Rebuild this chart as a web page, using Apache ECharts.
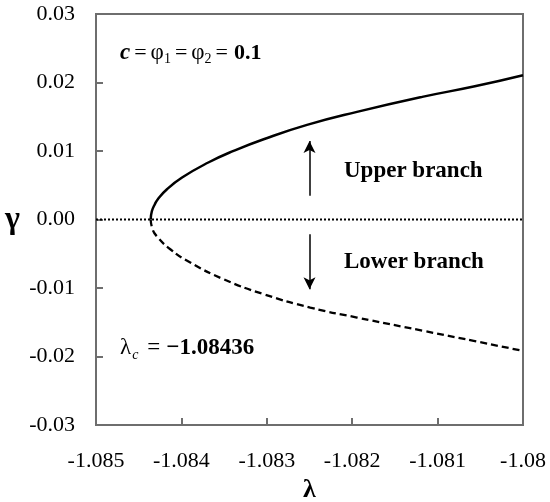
<!DOCTYPE html>
<html>
<head>
<meta charset="utf-8">
<script src="https://cdn.jsdelivr.net/npm/echarts@6/dist/echarts.min.js"></script>
<style>
html,body{margin:0;padding:0;background:#fff;}
#chart{width:550px;height:502px;}
</style>
</head>
<body>
<div id="chart"></div>
<script>
// ---- data ----
const xTickLabels = ['-1.085', '-1.084', '-1.083', '-1.082', '-1.081', '-1.08'];
const yTickLabels = ['-0.03', '-0.02', '-0.01', '0.00', '0.01', '0.02', '0.03'];

const upperLambda = [-1.08436, -1.084346, -1.084311, -1.084276, -1.084169, -1.083992, -1.083685, -1.083389, -1.083037, -1.082529, -1.081944, -1.081180, -1.080578, -1.08];
const upperGamma  = [0.0, 0.0012, 0.00223, 0.00296, 0.00442, 0.00613, 0.00832, 0.01002, 0.01172, 0.01381, 0.01571, 0.0179, 0.01941, 0.02107];

const lowerLambda = [-1.08436, -1.084338, -1.084292, -1.08413, -1.083896, -1.083506, -1.083037, -1.082491, -1.081944, -1.081164, -1.080578, -1.08];
const lowerGamma  = [0.0, -0.00142, -0.00239, -0.00434, -0.00628, -0.00872, -0.0109, -0.01285, -0.01431, -0.01626, -0.01772, -0.01918];

const zeroLambda = [-1.085, -1.08];
const zeroGamma = [0, 0];

// arrows (data coordinates)
const arrowLambda = -1.0825;
const upArrow = [0.00345, 0.01147];
const downArrow = [-0.00215, -0.01018];

const xMin = -1.085, xMax = -1.08, xStep = 0.001;
const yMin = -0.03, yMax = 0.03, yStep = 0.01;

const zip = (a, b) => a.map((v, i) => [v, b[i]]);

const FONT = 'Liberation Serif';
const AXIS_GREY = '#6e6e6e';
const chart = echarts.init(document.getElementById('chart'), null, {renderer: 'canvas'});

chart.setOption({
  animation: false,
  backgroundColor: '#fff',
  grid: {left: 96, right: 27, top: 14, bottom: 77, containLabel: false, outerBoundsMode: 'none',
         show: true, borderColor: AXIS_GREY, borderWidth: 2, backgroundColor: 'transparent'},
  xAxis: {
    type: 'value', min: xMin, max: xMax, interval: xStep,
    name: 'λ', nameLocation: 'middle', nameGap: 52,
    nameTextStyle: {fontFamily: FONT, fontSize: 26, fontWeight: 'bold', color: '#000'},
    axisLine: {show: true, onZero: false, lineStyle: {color: AXIS_GREY, width: 2}},
    axisTick: {show: true, inside: true, length: 7, lineStyle: {color: AXIS_GREY, width: 2}},
    splitLine: {show: false},
    axisLabel: {
      margin: 25, fontFamily: FONT, fontSize: 22, color: '#000',
      formatter: v => xTickLabels[Math.round((v - xMin) / xStep)]
    }
  },
  yAxis: {
    type: 'value', min: yMin, max: yMax, interval: yStep,
    name: 'γ', nameLocation: 'middle', nameRotate: 0, nameGap: 76,
    nameTextStyle: {fontFamily: FONT, fontSize: 32, fontWeight: 'bold', color: '#000'},
    axisLine: {show: true, onZero: false, lineStyle: {color: AXIS_GREY, width: 2}},
    axisTick: {show: true, inside: true, length: 7, lineStyle: {color: AXIS_GREY, width: 2}},
    splitLine: {show: false},
    axisLabel: {
      margin: 21, fontFamily: FONT, fontSize: 22, color: '#000',
      formatter: v => yTickLabels[Math.round((v - yMin) / yStep)]
    }
  },
  series: [
    {
      type: 'line', data: zip(zeroLambda, zeroGamma), symbol: 'none',
      lineStyle: {color: '#000', width: 2, type: [2, 2]}, z: 2
    },
    {
      type: 'line', data: zip(upperLambda, upperGamma), symbol: 'none', smooth: 0.5,
      lineStyle: {color: '#000', width: 2.5, type: 'solid'}, z: 3
    },
    {
      type: 'line', data: zip(lowerLambda, lowerGamma), symbol: 'none', smooth: 0.5,
      lineStyle: {color: '#000', width: 2.3, type: [7, 4]}, z: 3,
      markLine: {
        silent: true, symbol: ['none', 'arrow'], symbolSize: [9, 12],
        label: {show: false},
        lineStyle: {color: '#000', width: 1.5, type: 'solid'},
        data: [
          [{coord: [arrowLambda, upArrow[0]]}, {coord: [arrowLambda, upArrow[1]]}],
          [{coord: [arrowLambda, downArrow[0]]}, {coord: [arrowLambda, downArrow[1]]}]
        ]
      }
    }
  ],
  graphic: [
    {
      type: 'text', x: 120, y: 53,
      style: {
        text: '{ci|c}{e|=}{n|φ}{s|1}{e|=}{n|φ}{s|2}{e|=}{b|0.1}',
        verticalAlign: 'middle',
        rich: {
          ci: {fontFamily: FONT, fontSize: 23, fontStyle: 'italic', fontWeight: 'bold', fill: '#000'},
          e: {fontFamily: FONT, fontSize: 22, fill: '#000', padding: [0, 4, 0, 4]},
          n: {fontFamily: FONT, fontSize: 23, fill: '#000'},
          s: {fontFamily: FONT, fontSize: 14, fill: '#000', padding: [12, 0, 0, 0]},
          b: {fontFamily: FONT, fontSize: 22, fontWeight: 'bold', fill: '#000', padding: [0, 0, 0, 2]}
        }
      }
    },
    {
      type: 'text', x: 120, y: 348,
      style: {
        text: '{n|λ}{s|c}{e|=}{b|−1.08436}',
        verticalAlign: 'middle',
        rich: {
          n: {fontFamily: FONT, fontSize: 23, fill: '#000'},
          s: {fontFamily: FONT, fontSize: 14, fontStyle: 'italic', fill: '#000', padding: [14, 0, 0, 1]},
          e: {fontFamily: FONT, fontSize: 23, fill: '#000', padding: [0, 6, 0, 9]},
          b: {fontFamily: FONT, fontSize: 23, fontWeight: 'bold', fill: '#000'}
        }
      }
    },
    {
      type: 'text', x: 344, y: 171,
      style: {text: 'Upper branch', verticalAlign: 'middle', font: 'bold 23px "Liberation Serif"', fill: '#000'}
    },
    {
      type: 'text', x: 344, y: 262,
      style: {text: 'Lower branch', verticalAlign: 'middle', font: 'bold 23px "Liberation Serif"', fill: '#000'}
    }
  ]
});
</script>
</body>
</html>
